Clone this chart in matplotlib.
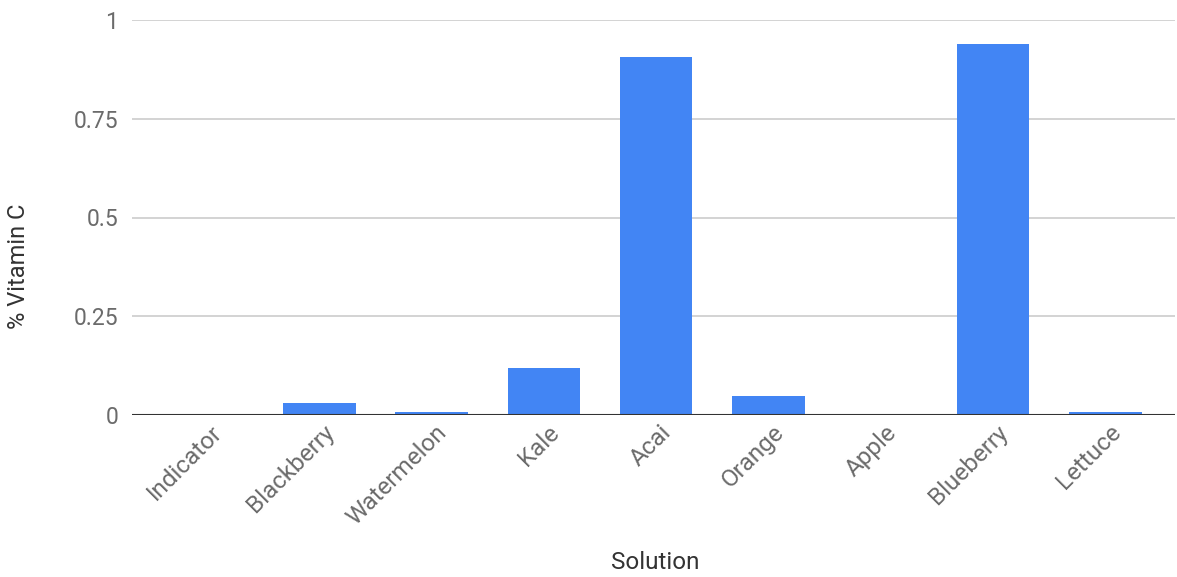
import matplotlib.pyplot as plt
import matplotlib.transforms as mtransforms

plt.rcParams['font.family'] = ['Roboto', 'DejaVu Sans']

solutions = ["Indicator", "Blackberry", "Watermelon", "Kale", "Acai",
             "Orange", "Apple", "Blueberry", "Lettuce"]
vitamin_c = [0.0, 0.030, 0.007, 0.119, 0.907, 0.049, 0.002, 0.939, 0.007]

fig = plt.figure(figsize=(11.77, 5.77), dpi=100)
ax = fig.add_axes([132 / 1177, 162 / 577, 1043 / 1177, 395 / 577])

x = range(len(solutions))
ax.bar(x, vitamin_c, width=0.645, color='#4285f4', zorder=3)

ax.set_xlim(-0.668, 8.62)
ax.set_ylim(0, 1)
ax.set_yticks([0, 0.25, 0.5, 0.75, 1])
ax.set_yticklabels(["0", "0.25", "0.5", "0.75", "1"])
ax.yaxis.grid(True, color='#cccccc', linewidth=1.2, zorder=0)
ax.axhline(0, color='#333333', linewidth=1.5, zorder=4)

for s in ax.spines.values():
    s.set_visible(False)

ax.tick_params(axis='both', length=0, colors='#6b6b6b', labelsize=16.5)
ax.tick_params(axis='y', pad=10)
ax.set_xticks(list(x))
ax.set_xticklabels(solutions, rotation=45, ha='right', va='center',
                   rotation_mode='anchor', fontsize=17.5)
ax.tick_params(axis='x', pad=10)

# nudge the rotated labels to the right a little
shift = mtransforms.ScaledTranslation(12 / 100, 0, fig.dpi_scale_trans)
for lab in ax.get_xticklabels():
    lab.set_transform(lab.get_transform() + shift)

ax.set_xlabel("Solution", fontsize=17.5, color='#333333')
ax.set_ylabel("% Vitamin C", fontsize=17, color='#333333')
ax.xaxis.set_label_coords(0.502, -0.345)
ax.yaxis.set_label_coords(-0.098, 0.377)

fig.savefig("out.png", dpi=100)
